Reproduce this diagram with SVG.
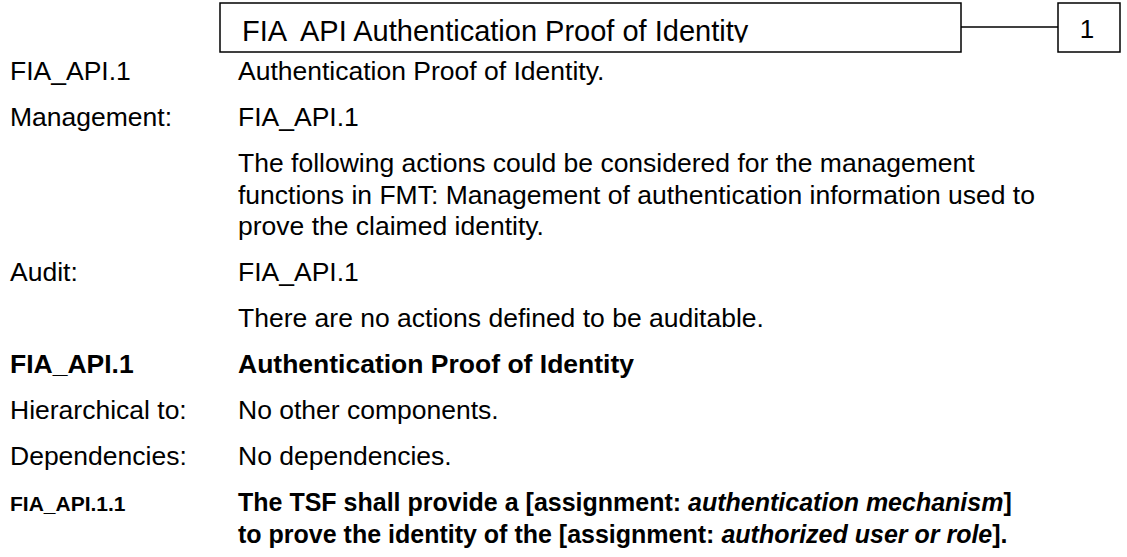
<svg xmlns="http://www.w3.org/2000/svg" width="1127" height="557" viewBox="0 0 1127 557">
<style>
.box{fill:#fff;stroke:#000;stroke-width:1.5}
.t{font-family:"Liberation Sans",Arial,sans-serif;font-size:26.5px;fill:#000}
.ttl{font-family:"Liberation Sans",Arial,sans-serif;font-size:29px;fill:#000}
.num{font-family:"Liberation Sans",Arial,sans-serif;font-size:26px;fill:#000}
.b{font-weight:bold}
.req{font-family:"Liberation Sans",Arial,sans-serif;font-size:25px;font-weight:bold;fill:#000}
.lbl{font-family:"Liberation Sans",Arial,sans-serif;font-size:21px;font-weight:bold;fill:#000}
.conn{stroke:#000;stroke-width:1.5;fill:none}
</style>
<defs>
<clipPath id="titleClip"><rect x="221" y="4" width="739" height="38.5"/></clipPath>
</defs>
<rect width="1127" height="557" fill="#fff"/>
<g id="connectors">
<line class="conn" x1="961" y1="27" x2="1058" y2="27"/>
</g>
<g id="title">
<rect class="box" x="220" y="3" width="741" height="49"/>
<text class="ttl" x="242" y="41" clip-path="url(#titleClip)" xml:space="preserve">FIA  API Authentication Proof of Identity</text>
</g>
<g id="number">
<rect class="box" x="1058" y="3" width="62" height="49"/>
<text class="num" x="1087" y="38" text-anchor="middle">1</text>
</g>
<g id="body">
<text class="t" x="10" y="80">FIA_API.1</text>
<text class="t" x="238" y="80">Authentication Proof of Identity.</text>
<text class="t" x="10" y="126">Management:</text>
<text class="t" x="238" y="126">FIA_API.1</text>
<text class="t" x="238" y="172">The following actions could be considered for the management</text>
<text class="t" x="238" y="203.5">functions in FMT: Management of authentication information used to</text>
<text class="t" x="238" y="235">prove the claimed identity.</text>
<text class="t" x="10" y="281">Audit:</text>
<text class="t" x="238" y="281">FIA_API.1</text>
<text class="t" x="238" y="327">There are no actions defined to be auditable.</text>
<text class="t b" x="10" y="373">FIA_API.1</text>
<text class="t b" x="238" y="373">Authentication Proof of Identity</text>
<text class="t" x="10" y="419">Hierarchical to:</text>
<text class="t" x="238" y="419">No other components.</text>
<text class="t" x="10" y="465">Dependencies:</text>
<text class="t" x="238" y="465">No dependencies.</text>
<text class="lbl" x="10" y="511">FIA_API.1.1</text>
<text class="req" x="238" y="511">The TSF shall provide a [assignment: <tspan font-style="italic">authentication mechanism</tspan>]</text>
<text class="req" x="238" y="542.5">to prove the identity of the [assignment: <tspan font-style="italic">authorized user or role</tspan>].</text>
</g>
</svg>
